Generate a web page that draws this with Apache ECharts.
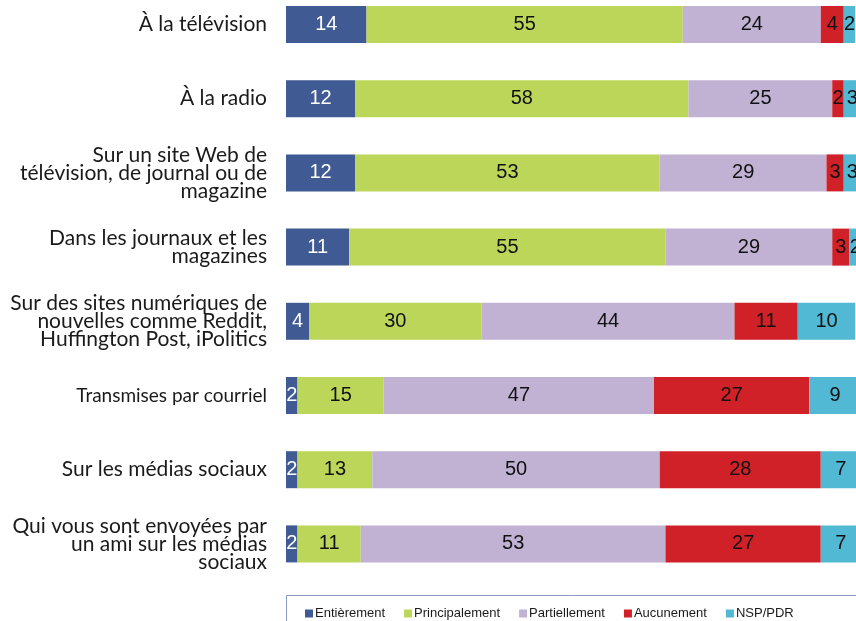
<!DOCTYPE html>
<html><head><meta charset="utf-8">
<script src="https://cdn.jsdelivr.net/npm/echarts@6/dist/echarts.min.js"></script>
<style>html,body{margin:0;padding:0;background:#fff}#c{width:856px;height:621px}</style>
</head><body><div id="c"></div>
<script>
const categories = [
  "À la télévision",
  "À la radio",
  "Sur un site Web de\ntélévision, de journal ou de\nmagazine",
  "Dans les journaux et les\nmagazines",
  "Sur des sites numériques de\nnouvelles comme Reddit,\nHuffington Post, iPolitics",
  "Transmises par courriel",
  "Sur les médias sociaux",
  "Qui vous sont envoyées par\nun ami sur les médias\nsociaux"
];
const seriesNames = ["Entièrement", "Principalement", "Partiellement", "Aucunement", "NSP/PDR"];
const entierement    = [14, 12, 12, 11, 4, 2, 2, 2];
const principalement = [55, 58, 53, 55, 30, 15, 13, 11];
const partiellement  = [24, 25, 29, 29, 44, 47, 50, 53];
const aucunement     = [4, 2, 3, 3, 11, 27, 28, 27];
const nsp            = [2, 3, 3, 2, 10, 9, 7, 7];
const labelStyleKey  = ["big", "big", "big", "big", "big", "small", "big", "big"];

const colors = ["#405A94", "#BCD65A", "#C1B2D3", "#CF2127", "#52B9D4"];
const values = [entierement, principalement, partiellement, aucunement, nsp];
const font = "Lato";

const chart = echarts.init(document.getElementById('c'), null, {renderer: 'canvas'});
chart.setOption({
  animation: false,
  color: colors,
  grid: {left: 286, top: -12.6, width: 575, height: 593.6, containLabel: false, outerBoundsMode: 'none'},
  xAxis: {type: 'value', min: 0, max: 100, show: false},
  yAxis: {
    type: 'category', data: categories, inverse: true,
    axisLine: {show: false}, axisTick: {show: false}, splitLine: {show: false},
    axisLabel: {
      margin: 19, align: 'right',
      formatter: function (v, i) { return '{' + labelStyleKey[i] + '|' + v + '}'; },
      rich: {
        big: {fontFamily: font, fontSize: 21, lineHeight: 18, color: '#1a1a1a'},
        small: {fontFamily: font, fontSize: 19, lineHeight: 18, color: '#1a1a1a'}
      }
    }
  },
  legend: {
    left: 300, top: 602, itemWidth: 8, itemHeight: 8, itemGap: 19,
    icon: 'rect',
    textStyle: {fontFamily: 'Liberation Sans', fontSize: 13, color: '#1a1a1a', padding: [0, 0, 0, -3]},
    data: seriesNames
  },
  graphic: [{
    type: 'rect', left: 284, top: 593, shape: {width: 620, height: 60},
    style: {fill: 'none', stroke: '#8C9CC0', lineWidth: 1}, silent: true
  }],
  series: seriesNames.map((name, k) => ({
    name: name, type: 'bar', stack: 'total', barWidth: 37,
    data: values[k],
    itemStyle: {color: colors[k]},
    label: {
      show: true, position: 'inside',
      fontFamily: 'Liberation Sans', fontSize: 20,
      color: k === 0 ? '#ffffff' : '#111111'
    }
  }))
});
</script></body></html>
